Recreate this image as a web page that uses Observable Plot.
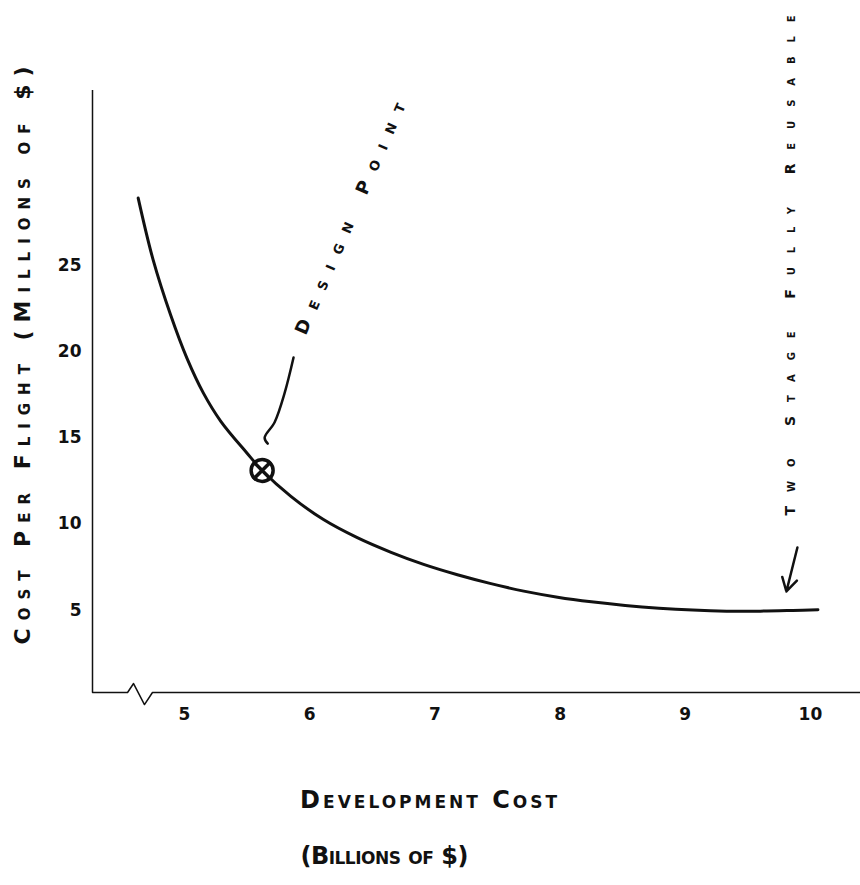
<!DOCTYPE html>
<html><head><meta charset="utf-8">
<script src="https://cdn.jsdelivr.net/npm/d3@7"></script>
<script src="https://cdn.jsdelivr.net/npm/@observablehq/plot@0.6"></script>
<style>html,body{margin:0;padding:0;background:#fff;} #chart{width:860px;height:885px;}</style>
</head><body><div id="chart"></div>
<script>
// ---- data (data units: billions of $ / millions of $) ----
const xTicks = [5, 6, 7, 8, 9, 10];
const yTicks = [5, 10, 15, 20, 25];
const devCost = [4.63, 4.75, 4.89, 5.02, 5.15, 5.29, 5.50, 5.62, 5.85, 6.11, 6.38, 6.65, 6.91, 7.18, 7.44, 7.71, 7.98, 8.25, 8.52, 8.79, 9.06, 9.33, 9.60, 9.86, 10.06];
const costPerFlight = [28.9, 25.3, 22.1, 19.6, 17.6, 15.95, 14.1, 13.1, 11.6, 10.25, 9.2, 8.35, 7.65, 7.05, 6.55, 6.1, 5.75, 5.48, 5.27, 5.11, 5.0, 4.94, 4.94, 4.98, 5.02];
const designX = [5.62];
const designY = [13.1];
const xDomain = [4.265, 10.40];
const yDomain = [0.22, 35.14];
const axisLineX = [4.265, 4.545, 4.593, 4.68, 4.744, 10.40];
const axisLineY = [0.22, 0.22, 0.74, -0.48, 0.22, 0.22];
const leaderX = [5.871, 5.80, 5.72, 5.64, 5.665];
const leaderY = [19.65, 17.6, 15.9, 15.0, 14.66];
const arrowX = [9.896, 9.808];
const arrowY = [8.63, 6.08];
const titleText = ["Cost Per Flight (Millions of $)", "Development Cost", "(Billions of $)", "Design Point", "Two Stage Fully Reusable"];
const titleX = [3.706, 6.95, 6.597, 6.326, 9.84];
const titleY = [19.77, -6.04, -9.29, 27.71, 24.99];
const titleRotate = [-90, 0, 0, -66.5, -90];
const titleSize = [22, 24, 24, 18, 14];
const titleLength = [578, 257, 168, 251, 500];

const curve = devCost.map((x, i) => ({x, y: costPerFlight[i]}));
const axisPts = axisLineX.map((x, i) => ({x, y: axisLineY[i]}));
const leaderPts = leaderX.map((x, i) => ({x, y: leaderY[i]}));
const FONT = "DejaVu Sans";

const marks = [
  Plot.ruleX([xDomain[0]], {y1: yDomain[0], y2: yDomain[1], stroke: "#111", strokeWidth: 1.5}),
  Plot.line(axisPts, {x: "x", y: "y", stroke: "#111", strokeWidth: 1.5}),
  Plot.line(curve, {x: "x", y: "y", curve: "catmull-rom", stroke: "#111", strokeWidth: 3}),
  Plot.dot(designX, {x: d => d, y: (d, i) => designY[i], r: 11, stroke: "#111", strokeWidth: 3.5, fill: "white"}),
  Plot.dot(designX, {x: d => d, y: (d, i) => designY[i], r: 8, symbol: "times", stroke: "#111", strokeWidth: 3.5}),
  Plot.line(leaderPts, {x: "x", y: "y", curve: "catmull-rom", stroke: "#111", strokeWidth: 2.5}),
  Plot.arrow([0], {x1: arrowX[0], y1: arrowY[0], x2: arrowX[1], y2: arrowY[1], stroke: "#111", strokeWidth: 2.5, headLength: 10}),
  Plot.text(xTicks, {x: d => d, y: yDomain[0], dy: 22, text: d => String(d), fontSize: 17, fontWeight: "bold", fontFamily: FONT, fill: "#111"}),
  Plot.text(yTicks, {x: xDomain[0], y: d => d, dx: -11, textAnchor: "end", text: d => String(d), fontSize: 17, fontWeight: "bold", fontFamily: FONT, fill: "#111"})
];
titleText.forEach((t, i) => {
  marks.push(Plot.text([t], {x: titleX[i], y: titleY[i], text: d => d, rotate: titleRotate[i], fontSize: titleSize[i], fontVariant: "small-caps", fontWeight: "bold", fontFamily: FONT, fill: "#111"}));
});

const svg = Plot.plot({
  width: 860, height: 885,
  marginLeft: 92, marginRight: 0, marginTop: 90, marginBottom: 193,
  x: {domain: xDomain, axis: null},
  y: {domain: yDomain, axis: null},
  style: {background: "white", overflow: "visible", fontFamily: FONT},
  marks
});
d3.select(svg).selectAll("text").each(function () {
  const i = titleText.indexOf(this.textContent);
  if (i >= 0) { this.setAttribute("textLength", titleLength[i]); this.setAttribute("lengthAdjust", "spacing"); }
});
document.getElementById("chart").appendChild(svg);
</script>
</body></html>
